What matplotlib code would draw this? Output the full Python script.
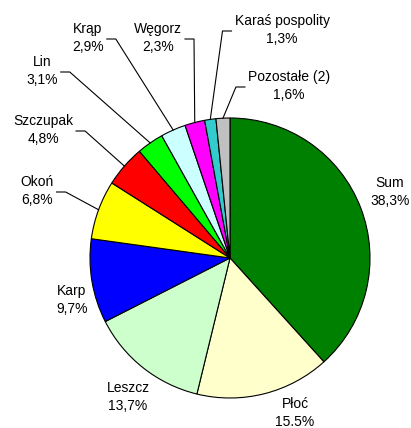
import numpy as np
import matplotlib.pyplot as plt

# Dane - struktura odłowów
kategorie = ["Sum", "Płoć", "Leszcz", "Karp", "Okoń", "Szczupak", "Lin",
             "Krąp", "Węgorz", "Karaś pospolity", "Pozostałe (2)"]
udzialy = [38.3, 15.5, 13.7, 9.7, 6.8, 4.8, 3.1, 2.9, 2.3, 1.3, 1.6]
etykiety_proc = ["38,3%", "15.5%", "13,7%", "9,7%", "6,8%", "4,8%", "3,1%",
                 "2,9%", "2,3%", "1,3%", "1,6%"]
kolory = ["#008000", "#FFFFCC", "#CCFFCC", "#0000FF", "#FFFF00", "#FF0000",
          "#00FF00", "#CCFFFF", "#FF00FF", "#33CCCC", "#C0C0C0"]

# pozycje etykiet w pikselach (y od dołu) i czy rysować linię odniesienia
pozycje = [(390, 236), (295, 15), (128, 31), (72, 128), (37, 237), (43, 298),
           (42, 357), (88, 390), (158, 390), (282, 398), (289, 342)]
linie = [False, False, False, False, True, True, True, True, True, True, True]

srodek = (230, 170)
promien = 140

fig = plt.figure(figsize=(4.11, 4.28), dpi=100)
ax = fig.add_axes([0, 0, 1, 1])
wedges, _ = ax.pie(udzialy, colors=kolory, startangle=90, counterclock=False,
                   center=srodek, radius=promien,
                   wedgeprops=dict(edgecolor="black", linewidth=0.8))
ax.set_xlim(0, 411)
ax.set_ylim(0, 428)
ax.set_aspect("auto")
ax.axis("off")

teksty = []
for kat, proc, (x, y) in zip(kategorie, etykiety_proc, pozycje):
    t = ax.text(x, y, f"{kat}\n{proc}", ha="center", va="center",
                multialignment="center", fontsize=10, linespacing=1.45,
                family="Liberation Sans")
    teksty.append(t)

fig.canvas.draw()
renderer = fig.canvas.get_renderer()
odwr = ax.transData.inverted()

for w, t, (x, y), rysuj in zip(wedges, teksty, pozycje, linie):
    if not rysuj:
        continue
    kat_sr = np.deg2rad((w.theta1 + w.theta2) / 2)
    ex = srodek[0] + promien * np.cos(kat_sr)
    ey = srodek[1] + promien * np.sin(kat_sr)
    bb = t.get_window_extent(renderer).transformed(odwr)
    if ex > x:
        x0 = bb.x1 + 3
        x1 = x0 + 9
    else:
        x0 = bb.x0 - 3
        x1 = x0 - 9
    yl = y - 1
    ax.plot([ex, x1, x0], [ey, yl, yl], color="black", linewidth=0.8)

fig.savefig("out.png", dpi=100)
